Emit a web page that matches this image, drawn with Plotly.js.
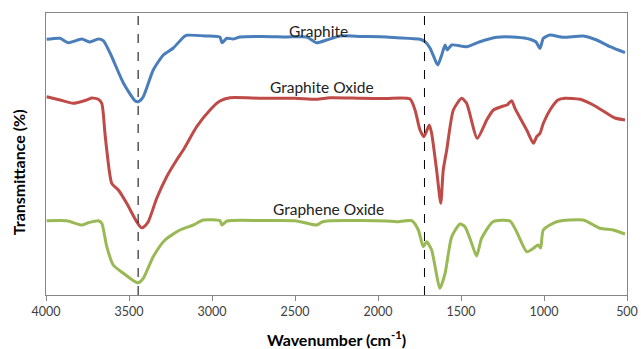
<!DOCTYPE html>
<html>
<head>
<meta charset="utf-8">
<script src="https://cdn.plot.ly/plotly-3.0.1.min.js"></script>
<style>html,body{margin:0;padding:0;background:#fff;}#chart{width:641px;height:349px;}</style>
</head>
<body>
<div id="chart"></div>
<script>
// Wavenumber (cm^-1) and transmittance (arbitrary offset units)
const graphiteWn = [3996,3916,3866,3785,3735,3685,3655,3614,3534,3464,3444,3414,3354,3293,3233,3173,3152,3032,2952,2940,2910,2874,2831,2700,2550,2430,2369,2309,2229,2100,1950,1887,1747,1717,1687,1647,1639,1616,1596,1583,1556,1466,1386,1285,1165,1084,1048,1024,1004,964,884,763,683,602,512];
const graphiteT  = [255.7,256.7,252.3,256,253,256,254.3,242,212,194.3,193.3,198.3,225,240,247,257.7,259.7,259,257.7,252.3,256.7,256,258,258.5,258,258,252.3,255,259,258.5,258,257.3,255.7,253.3,247,231.7,230,240,250,245,250,248.3,253.3,257.7,257.7,255.7,253,246.7,256.7,260,257.7,259,255,248.3,242.3];

const graphiteOxideWn = [3996,3916,3836,3755,3723,3685,3664,3645,3634,3604,3564,3514,3454,3428,3414,3384,3333,3273,3213,3173,3092,3012,2952,2892,2700,2500,2369,2289,2100,1950,1807,1777,1747,1723,1691,1677,1647,1622,1607,1586,1546,1496,1466,1402,1345,1305,1245,1223,1195,1175,1104,1064,1044,1024,1004,964,916,874,783,703,622,572,512];
const graphiteOxideT  = [198.3,195,191.7,195,197,195.7,191.7,162,145,111.7,105,91.7,73.3,67.5,67.7,73.3,96.7,118.3,135,145,168.3,185,194,197.3,196.7,196.7,195.7,197.3,196.7,196.5,196,185,165,158.3,170,161.7,125,91.7,125,145,185,196.7,191.7,156.7,175,185,189,190,194.3,186.7,165,151.7,158.3,161.7,171.7,185,195,196.7,195.7,190,181.7,177,175];

const grapheneOxideWn = [3996,3875,3785,3745,3685,3664,3634,3595,3534,3464,3444,3414,3354,3283,3193,3113,3052,2952,2940,2910,2700,2500,2369,2337,2289,2100,1950,1887,1797,1757,1727,1707,1677,1627,1596,1556,1506,1476,1436,1406,1376,1307,1205,1165,1104,1064,1036,1020,1004,924,763,663,583,512];
const grapheneOxideT  = [74.3,74.3,70,72.3,74.3,71.7,48.3,30,21.7,13.3,12.3,16.7,38.3,55,65,70,75,74.3,70,74,74.5,74.3,70,73,74.3,74.5,74,73.3,74.3,65,48.3,53.3,45,6.7,21.7,58.3,71,68.3,51.7,39,56.7,73.3,74,63.3,43.3,46.7,50,47,65,73.3,75,66.7,65,61];

const seriesNames = ["Graphite", "Graphite Oxide", "Graphene Oxide"];
const labelWn = [2361, 2337, 2301];
const labelT  = [264, 208, 86];
const markerWn = [3445, 1720];
const xTicks = [4000,3500,3000,2500,2000,1500,1000,500];
const xTitle = "Wavenumber (cm<sup>-1</sup>)";
const yTitle = "Transmittance (%)";

const colors = ["#4A7EBB", "#BE4B48", "#98B954"];
const xs = [graphiteWn, graphiteOxideWn, grapheneOxideWn];
const ys = [graphiteT, graphiteOxideT, grapheneOxideT];

const traces = xs.map((x, i) => ({
  x: x, y: ys[i], type: "scatter", mode: "lines", name: seriesNames[i],
  line: {color: colors[i], width: 3, shape: "spline", smoothing: 0.6},
  hoverinfo: "skip"
}));

const font = "Lato, 'Open Sans', sans-serif";
const annotations = seriesNames.map((n, i) => ({
  x: labelWn[i], y: labelT[i], xref: "x", yref: "y", text: n, showarrow: false,
  font: {family: font, size: 15.5, color: "#222"}
}));
// y-axis title placed like the reference (centred lower than the plot middle)
annotations.push({
  xref: "paper", yref: "paper", x: -0.048, y: 0.436, text: "<b>" + yTitle + "</b>",
  textangle: -90, showarrow: false, xanchor: "center", yanchor: "middle",
  font: {family: font, size: 16, color: "#000"}
});

const layout = {
  width: 641, height: 349,
  margin: {l: 46, r: 14, t: 13, b: 54},
  paper_bgcolor: "#fff", plot_bgcolor: "#fff",
  showlegend: false,
  font: {family: font, color: "#404040", size: 12.5},
  xaxis: {
    range: [4000, 500], tickvals: xTicks, ticktext: xTicks.map(String),
    ticks: "outside", ticklen: 5, tickcolor: "#868686", tickwidth: 1,
    showgrid: false, zeroline: false,
    showline: true, linecolor: "#868686", linewidth: 1, mirror: true,
    tickfont: {family: font, size: 12.5, color: "#404040"},
    title: {text: "<b>" + xTitle + "</b>", font: {family: font, size: 16, color: "#000"}, standoff: 18}
  },
  yaxis: {
    range: [0, 282], showticklabels: false, ticks: "",
    showgrid: false, zeroline: false,
    showline: true, linecolor: "#868686", linewidth: 1, mirror: true
  },
  shapes: markerWn.map(w => ({
    type: "line", xref: "x", yref: "paper", x0: w, x1: w, y0: 0, y1: 1,
    line: {color: "#000", width: 1, dash: "dash"}
  })),
  annotations: annotations
};

Plotly.newPlot("chart", traces, layout, {displayModeBar: false, staticPlot: true});
</script>
</body>
</html>
